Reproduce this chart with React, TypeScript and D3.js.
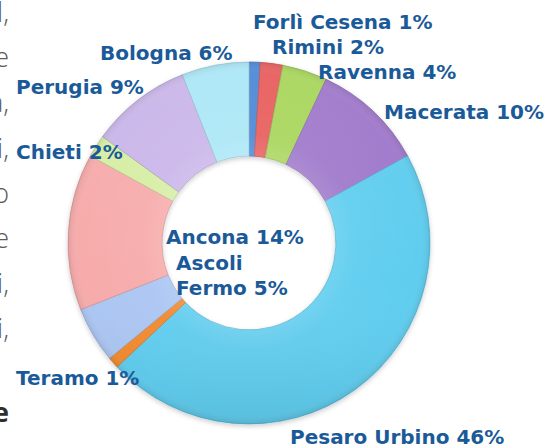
import * as d3 from 'd3'

// province shares, clockwise from 12 o'clock
const provinces = [
  'Forlì Cesena', 'Rimini', 'Ravenna', 'Macerata', 'Pesaro Urbino', 'Teramo',
  'Ascoli Fermo', 'Ancona', 'Chieti', 'Perugia', 'Bologna',
]
const shares = [1, 2, 4, 10, 46, 1, 5, 14, 2, 9, 6]
const colors = [
  '#4d88d6', '#e85d5d', '#a8d65c', '#9f78cb', '#5ecdef', '#f28a2e',
  '#abc6f3', '#f7abab', '#d6eea4', '#cab6ea', '#abe7f7',
]

// label lines and where each block sits (left x, first baseline)
const labelLines: Record<string, string[]> = {
  'Forlì Cesena': ['Forlì Cesena 1%'],
  Rimini: ['Rimini 2%'],
  Ravenna: ['Ravenna 4%'],
  Macerata: ['Macerata 10%'],
  'Pesaro Urbino': ['Pesaro Urbino 46%'],
  Teramo: ['Teramo 1%'],
  'Ascoli Fermo': ['Ascoli', 'Fermo 5%'],
  Ancona: ['Ancona 14%'],
  Chieti: ['Chieti 2%'],
  Perugia: ['Perugia 9%'],
  Bologna: ['Bologna 6%'],
}
const labelPos: Record<string, [number, number]> = {
  'Forlì Cesena': [253, 29],
  Rimini: [272, 54],
  Ravenna: [318, 79],
  Macerata: [384, 119],
  'Pesaro Urbino': [290, 444],
  Teramo: [16, 385],
  'Ascoli Fermo': [176, 270],
  Ancona: [166, 244],
  Chieti: [16, 159],
  Perugia: [16, 94],
  Bologna: [100, 60],
}

// cut-off words from the page text on the left
const sideText = ['l,', 'e', 'a,', 'i,', 'o', 'e', 'i,', 'i,']

export default function App() {
  const width = 551
  const height = 448
  const cx = 249
  const cy = 243
  const outer = 181
  const inner = 87

  const data = provinces.map((p, i) => ({name: p, value: shares[i], color: colors[i]}))
  const pie = d3.pie<{name: string; value: number; color: string}>().value(d => d.value).sort(null)
  const arc = d3.arc<d3.PieArcDatum<{name: string; value: number; color: string}>>()
    .innerRadius(inner)
    .outerRadius(outer)
  const arcs = pie(data)

  return (
    <svg width={width} height={height} style={{position: 'absolute', left: 0, top: 0, background: '#fff'}}>
      <defs>
        <radialGradient id="shade" cx={0} cy={0} r={outer} gradientUnits="userSpaceOnUse">
          <stop offset="0.48" stopColor="#fff" stopOpacity="0.12" />
          <stop offset="0.6" stopColor="#fff" stopOpacity="0.04" />
          <stop offset="0.94" stopColor="#fff" stopOpacity="0" />
          <stop offset="1" stopColor="#000" stopOpacity="0.08" />
        </radialGradient>
        <linearGradient id="vshade" x1="0" y1={-outer} x2="0" y2={outer} gradientUnits="userSpaceOnUse">
          <stop offset="0" stopColor="#fff" stopOpacity="0.06" />
          <stop offset="0.6" stopColor="#fff" stopOpacity="0" />
          <stop offset="1" stopColor="#000" stopOpacity="0.07" />
        </linearGradient>
        <filter id="drop" x="-20%" y="-20%" width="140%" height="140%">
          <feGaussianBlur in="SourceAlpha" stdDeviation="2.5" />
          <feOffset dx="0" dy="2" result="b" />
          <feComponentTransfer><feFuncA type="linear" slope="0.2" /></feComponentTransfer>
          <feMerge><feMergeNode /><feMergeNode in="SourceGraphic" /></feMerge>
        </filter>
      </defs>

      <g fill="#5b5b5b" fontFamily="'Open Sans', sans-serif" fontWeight={300} fontSize={27} textAnchor="end">
        {sideText.map((t, i) => (
          <text key={i} x={9} y={22 + i * 45.2}>{t}</text>
        ))}
        <text x={9} y={422} fontWeight={700} fill="#2e2e2e">e</text>
      </g>

      <g transform={`translate(${cx},${cy})`}>
        <g filter="url(#drop)">
          {arcs.map(a => (
            <path key={a.data.name} d={arc(a) ?? ''} fill={a.data.color}
              stroke={d3.color(a.data.color)?.darker(0.5).formatHex()} strokeWidth={0.7} />
          ))}
        </g>
        {arcs.map(a => (
          <path key={a.data.name + 's'} d={arc(a) ?? ''} fill="url(#shade)" />
        ))}
        {arcs.map(a => (
          <path key={a.data.name + 'v'} d={arc(a) ?? ''} fill="url(#vshade)" />
        ))}
      </g>

      <g fill="#1b5a99" fontFamily="'DejaVu Sans', sans-serif" fontWeight={700} fontSize={20}>
        {provinces.map(p => (
          <text key={p} x={labelPos[p][0]} y={labelPos[p][1]}>
            {labelLines[p].map((line, j) => (
              <tspan key={j} x={labelPos[p][0]} y={labelPos[p][1] + j * 25}>{line}</tspan>
            ))}
          </text>
        ))}
      </g>
    </svg>
  )
}
